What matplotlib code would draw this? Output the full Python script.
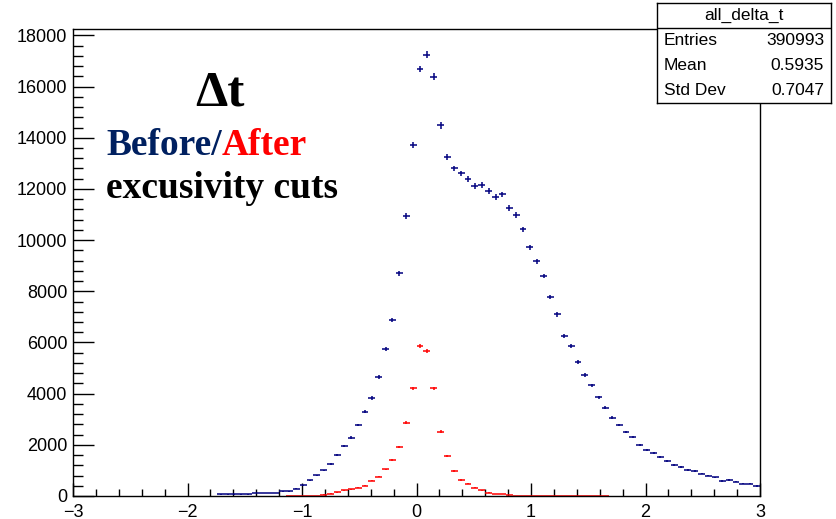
import matplotlib.pyplot as plt
import numpy as np
from matplotlib.ticker import MultipleLocator

plt.rcParams['font.family'] = ['Liberation Sans', 'DejaVu Sans']

# 100 bins of width 0.06 between -3 and 3
x_lo, x_hi, n_bins = -3.0, 3.0, 100

before_cuts = [
    0, 0, 0, 0, 0, 0, 0, 0, 0, 0,
    0, 0, 0, 0, 0, 0, 0, 0, 0, 0,
    0, 65, 65, 65, 65, 65, 117, 117, 117, 117,
    182, 182, 286, 417, 612, 807, 1003, 1237, 1601, 1966,
    2279, 2773, 3294, 3828, 4648, 5729, 6875, 8697, 10937, 13722,
    16690, 17253, 16393, 14480, 13241, 12800, 12605, 12394, 12109, 12160,
    11914, 11692, 11784, 11261, 10976, 10417, 9726, 9167, 8593, 7773,
    7097, 6261, 5871, 5246, 4738, 4324, 3855, 3449, 3058, 2773,
    2500, 2305, 2004, 1785, 1691, 1523, 1378, 1222, 1133, 1004,
    988, 871, 793, 727, 586, 625, 559, 481, 481, 391,
]

after_cuts = [
    0, 0, 0, 0, 0, 0, 0, 0, 0, 0,
    0, 0, 0, 0, 0, 0, 0, 0, 0, 0,
    0, 0, 0, 0, 0, 0, 0, 0, 0, 0,
    0, 15, 15, 15, 15, 15, 52, 91, 143, 221,
    260, 330, 410, 605, 760, 1042, 1390, 1910, 2870, 4205,
    5872, 5664, 4205, 2513, 1549, 977, 630, 476, 326, 221,
    130, 85, 80, 35, 8, 8, 8, 8, 8, 8,
    8, 8, 8, 8, 8, 8, 8, 8, 0, 0,
    0, 0, 0, 0, 0, 0, 0, 0, 0, 0,
    0, 0, 0, 0, 0, 0, 0, 0, 0, 0,
]

hist_name = "all_delta_t"
stat_names = ["Entries", "Mean", "Std Dev"]
stat_values = ["390993", "0.5935", "0.7047"]

edges = np.linspace(x_lo, x_hi, n_bins + 1)
centers = 0.5 * (edges[:-1] + edges[1:])
half_w = 0.5 * (edges[1] - edges[0])

fig = plt.figure(figsize=(8.36, 5.19), dpi=100)
W, H = 836, 519
ax = fig.add_axes([73 / W, 23 / H, (760 - 73) / W, (496 - 29) / H])

def draw_hist(counts, color):
    c = np.array(counts, dtype=float)
    m = c > 0
    ax.errorbar(centers[m], c[m], xerr=half_w, yerr=np.sqrt(c[m]),
                fmt='none', ecolor=color, elinewidth=1.1, capsize=0)

draw_hist(before_cuts, '#00007f')
draw_hist(after_cuts, '#ff0000')

ax.set_xlim(x_lo, x_hi)
ax.set_ylim(0, 18250)
ax.xaxis.set_major_locator(MultipleLocator(1))
ax.xaxis.set_minor_locator(MultipleLocator(0.2))
ax.yaxis.set_major_locator(MultipleLocator(2000))
ax.yaxis.set_minor_locator(MultipleLocator(400))
ax.tick_params(axis='x', which='major', direction='in', length=9.5, width=1, labelsize=13, pad=5.5)
ax.tick_params(axis='x', which='minor', direction='in', length=5, width=1)
ax.tick_params(axis='y', which='major', direction='in', length=15, width=1, labelsize=13, pad=4)
ax.tick_params(axis='y', which='minor', direction='in', length=7.5, width=1)
for sp in ax.spines.values():
    sp.set_linewidth(1)

# annotations
serif = dict(family='Liberation Serif', fontweight='bold')
fig.text(220 / W, 1 - 93 / H, "\u0394t", ha='center', va='center', fontsize=37, **serif)
renderer = fig.canvas.get_renderer()
t1 = fig.text(106 / W, 1 - 155 / H, "Before/", fontsize=27, color='#002060',
              va='baseline', **serif)
bb = t1.get_window_extent(renderer)
fig.text(bb.x1 / W, 1 - 155 / H, "After", fontsize=27, color='#ff0000',
         va='baseline', **serif)
fig.text(106 / W, 1 - 198 / H, "excusivity cuts", fontsize=27, color='black',
         va='baseline', **serif)

# stats box
sb = fig.add_axes([657 / W, 1 - 103 / H, (831 - 657) / W, (103 - 3) / H])
sb.set_xlim(0, 1)
sb.set_ylim(0, 4)
sb.set_xticks([])
sb.set_yticks([])
sb.set_facecolor('white')
for sp in sb.spines.values():
    sp.set_linewidth(1)
sb.axhline(3, color='black', lw=1)
sb.text(0.5, 3.5, hist_name, ha='center', va='center', fontsize=12.5)
for k, (nm, val) in enumerate(zip(stat_names, stat_values)):
    y = 2.5 - k
    sb.text(0.04, y, nm, ha='left', va='center', fontsize=12.5)
    sb.text(0.96, y, val, ha='right', va='center', fontsize=12.5)

fig.savefig("out.png", dpi=100)
